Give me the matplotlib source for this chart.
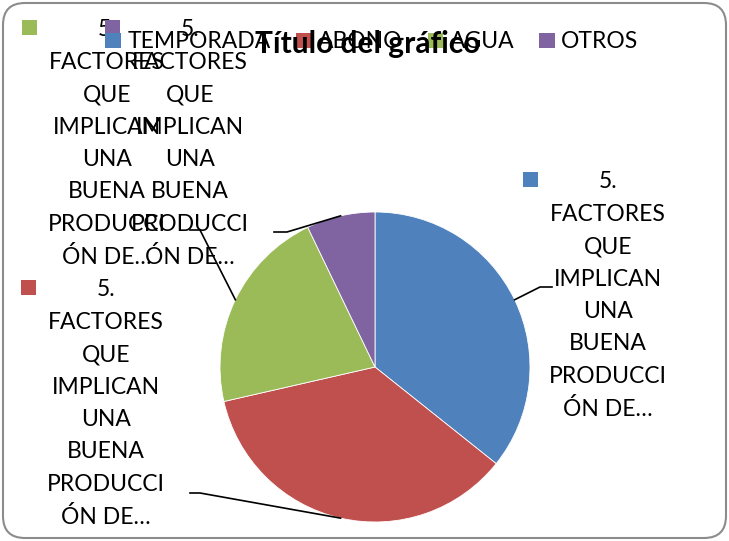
import numpy as np
import matplotlib
matplotlib.use('Agg')
import matplotlib.pyplot as plt
from matplotlib.patches import Rectangle, FancyBboxPatch

plt.rcParams['font.family'] = ['Lato', 'DejaVu Sans']

# datos
categorias = ['TEMPORADA', 'ABONO', 'AGUA', 'OTROS']
valores = [10, 10, 6, 2]
colores = ['#4F81BD', '#C0504D', '#9BBB59', '#8064A2']
titulo = 'Título del gráfico'
etiqueta = ['5.', 'FACTORES', 'QUE', 'IMPLICAN', 'UNA', 'BUENA', 'PRODUCCI', 'ÓN DE…']

# posiciones de las etiquetas (px, y hacia abajo): centro texto x, primera linea y, codo de la guia
pos_etq = [(608, 182, (540, 287), (552, 287)),
           (106, 290, (200, 493), (190, 493)),
           (107, 30, (200, 230), (190, 230)),
           (190, 30, (287, 232), (274, 232))]

W, H = 729, 541
fs = 16.5
paso = 32.4
centro = (375, 367)
radio = 155

fig = plt.figure(figsize=(W / 100, H / 100), dpi=100)
ax = fig.add_axes([0, 0, 1, 1])
ax.axis('off')

marco = FancyBboxPatch((3, 3), W - 6, H - 6, boxstyle='round,pad=0,rounding_size=22',
                       fc='white', ec='#8c8c8c', lw=1.5, zorder=0)
ax.add_patch(marco)

# eje y invertido -> sentido horario visual con counterclock=True
wedges, _ = ax.pie(valores, colors=colores, startangle=-90, counterclock=True,
                   center=centro, radius=radio, frame=True,
                   wedgeprops=dict(edgecolor='white', linewidth=0.6))

for w, (tx, ty, codo, fin) in zip(wedges, pos_etq):
    ang = np.deg2rad((w.theta1 + w.theta2) / 2)
    x0 = centro[0] + radio * np.cos(ang)
    y0 = centro[1] + radio * np.sin(ang)
    ax.plot([x0, codo[0], fin[0]], [y0, codo[1], fin[1]], color='black', lw=1.2, zorder=3)
    ax.add_patch(Rectangle((tx - 85, ty - 10), 15, 15, fc=w.get_facecolor(), ec='none', zorder=4))
    for i, linea in enumerate(etiqueta):
        ax.text(tx, ty + i * paso, linea, ha='center', va='center', fontsize=fs, zorder=4)

cuadros = [Rectangle((0, 0), 1, 1, fc=c, ec='none') for c in colores]
leg = ax.legend(cuadros, categorias, loc='center', bbox_to_anchor=(372 / W, 1 - 42 / H),
                bbox_transform=fig.transFigure, ncol=4, frameon=False, fontsize=fs,
                handlelength=0.66, handleheight=0.66, handletextpad=0.3,
                columnspacing=1.1, borderpad=0, borderaxespad=0)
leg.set_zorder(5)

ax.text(W / 2 + 3, 44, titulo, ha='center', va='center', fontsize=21.5,
        fontweight='bold', zorder=6)

ax.set_xlim(0, W)
ax.set_ylim(H, 0)

fig.savefig('out.png', dpi=100)
